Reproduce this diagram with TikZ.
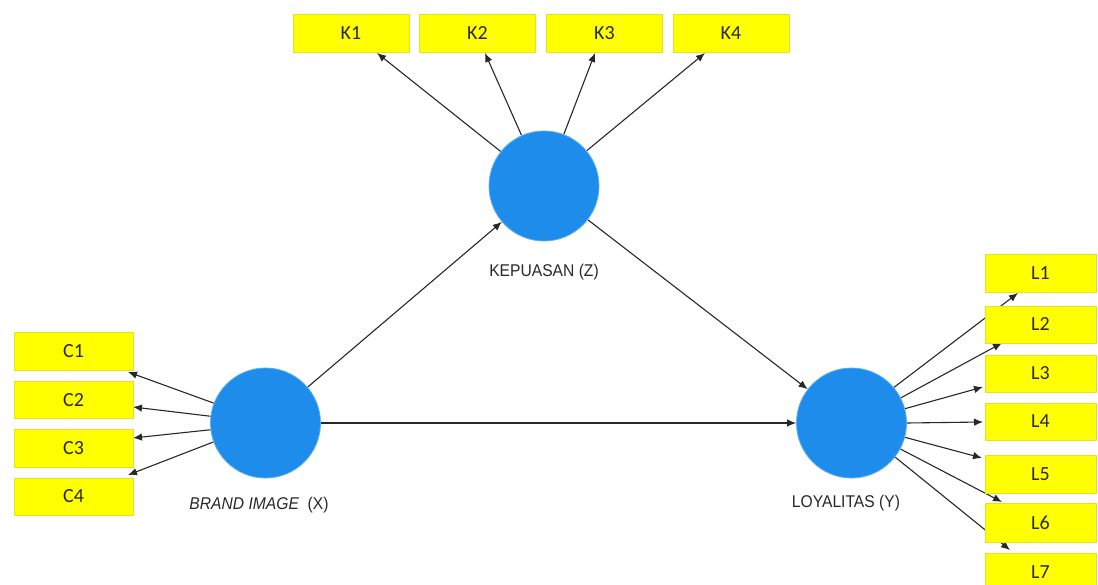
\documentclass[tikz,border=0pt]{standalone}
\usepackage{fontspec}
\setmainfont{Liberation Sans}
\newfontfamily\boxfont{Carlito}
\newfontfamily\labfont[FakeStretch=0.92]{Liberation Sans}
\usetikzlibrary{arrows.meta}
\definecolor{cblue}{RGB}{30,140,234}
\definecolor{cedge}{RGB}{90,175,240}
\definecolor{cyel}{RGB}{255,255,0}
\definecolor{cyedge}{RGB}{225,225,40}
\definecolor{cline}{RGB}{40,40,40}
\definecolor{ctext}{RGB}{40,40,40}
\pgfdeclarelayer{bg}
\pgfdeclarelayer{paper}
\pgfsetlayers{paper,bg,main}
\tikzset{
  latent/.style={circle, fill=cblue, draw=cedge, line width=0.8pt, minimum size=110pt, inner sep=0pt},
  ind/.style={rectangle, fill=cyel, draw=cyedge, line width=0.6pt, inner sep=0pt, text=ctext, font=\boxfont\fontsize{20}{22}\selectfont},
  lab/.style={text=ctext, font=\labfont\fontsize{17}{19}\selectfont, inner sep=0pt},
  arr/.style={draw=cline, line width=1.1pt, -{Latex[length=9pt,width=7.5pt]}}
}
\begin{document}
\begin{tikzpicture}[x=1pt,y=-1pt]
\useasboundingbox (0,0) rectangle (1098,585);
\begin{pgfonlayer}{paper}
\fill[white] (0,0) rectangle (1098,585);
\end{pgfonlayer}
% latent variables
\node[latent] (Z) at (544,186) {};
\node[latent] (X) at (265.5,423) {};
\node[latent] (Y) at (851.5,423) {};
\node[lab] (lZ) at (544,272) {KEPUASAN (Z)};
\node[lab] (lX) at (259,505) {\itshape BRAND IMAGE\upshape\ \ (X)};
\node[lab] (lY) at (846,503) {LOYALITAS (Y)};
% K indicators
\node[ind, minimum width=116pt, minimum height=38pt] (K1) at (351,33) {K1};
\node[ind, minimum width=116pt, minimum height=38pt] (K2) at (477.5,33) {K2};
\node[ind, minimum width=116pt, minimum height=38pt] (K3) at (604.5,33) {K3};
\node[ind, minimum width=116pt, minimum height=38pt] (K4) at (731,33) {K4};
% C indicators
\node[ind, minimum width=119pt, minimum height=38pt] (C1) at (73.5,351) {C1};
\node[ind, minimum width=119pt, minimum height=37pt] (C2) at (73.5,400) {C2};
\node[ind, minimum width=119pt, minimum height=38pt] (C3) at (73.5,448) {C3};
\node[ind, minimum width=119pt, minimum height=37pt] (C4) at (73.5,496.5) {C4};
% L indicators
\node[ind, minimum width=111pt, minimum height=38pt] (L1) at (1040.5,273) {L1};
\node[ind, minimum width=111pt, minimum height=37pt] (L2) at (1040.5,324.5) {L2};
\node[ind, minimum width=111pt, minimum height=37pt] (L3) at (1040.5,373.5) {L3};
\node[ind, minimum width=111pt, minimum height=37pt] (L4) at (1040.5,421.5) {L4};
\node[ind, minimum width=111pt, minimum height=38pt] (L5) at (1040.5,474) {L5};
\node[ind, minimum width=111pt, minimum height=39pt] (L6) at (1040.5,522.5) {L6};
\node[ind, minimum width=111pt, minimum height=38pt] (L7) at (1040.5,572) {L7};
% arrow tip points
\coordinate (tK1) at (377,53);
\coordinate (tK2) at (485,53);
\coordinate (tK3) at (595,53);
\coordinate (tK4) at (705,53);
\coordinate (tC1) at (128,372);
\coordinate (tC2) at (133,407);
\coordinate (tC3) at (133,438);
\coordinate (tC4) at (128,475);
\coordinate (tL1) at (1018,293);
\coordinate (tL2) at (1002,343);
\coordinate (tL3) at (983,387);
\coordinate (tL4) at (983,422);
\coordinate (tL5) at (982,458);
\coordinate (tL6) at (1002,502);
\coordinate (tL7) at (1010,550);
\begin{pgfonlayer}{bg}
% structural paths
\draw[arr] (X) -- (Z);
\draw[arr] (Z) -- (Y);
\draw[arr] (X) -- (Y);
% outer loadings
\draw[arr] (Z) -- (tK1);
\draw[arr] (Z) -- (tK2);
\draw[arr] (Z) -- (tK3);
\draw[arr] (Z) -- (tK4);
\draw[arr] (X.159) -- (tC1);
\draw[arr] (X.173) -- (tC2);
\draw[arr] (X.187) -- (tC3);
\draw[arr] (X.200) -- (tC4);
\draw[arr] (Y.40) -- (tL1);
\draw[arr] (Y.27) -- (tL2);
\draw[arr] (Y.15) -- (tL3);
\draw[arr] (Y.0) -- (tL4);
\draw[arr] (Y.-15) -- (tL5);
\draw[arr] (Y.-28) -- (tL6);
\draw[arr] (Y.-38) -- (tL7);
\end{pgfonlayer}
\end{tikzpicture}
\end{document}
